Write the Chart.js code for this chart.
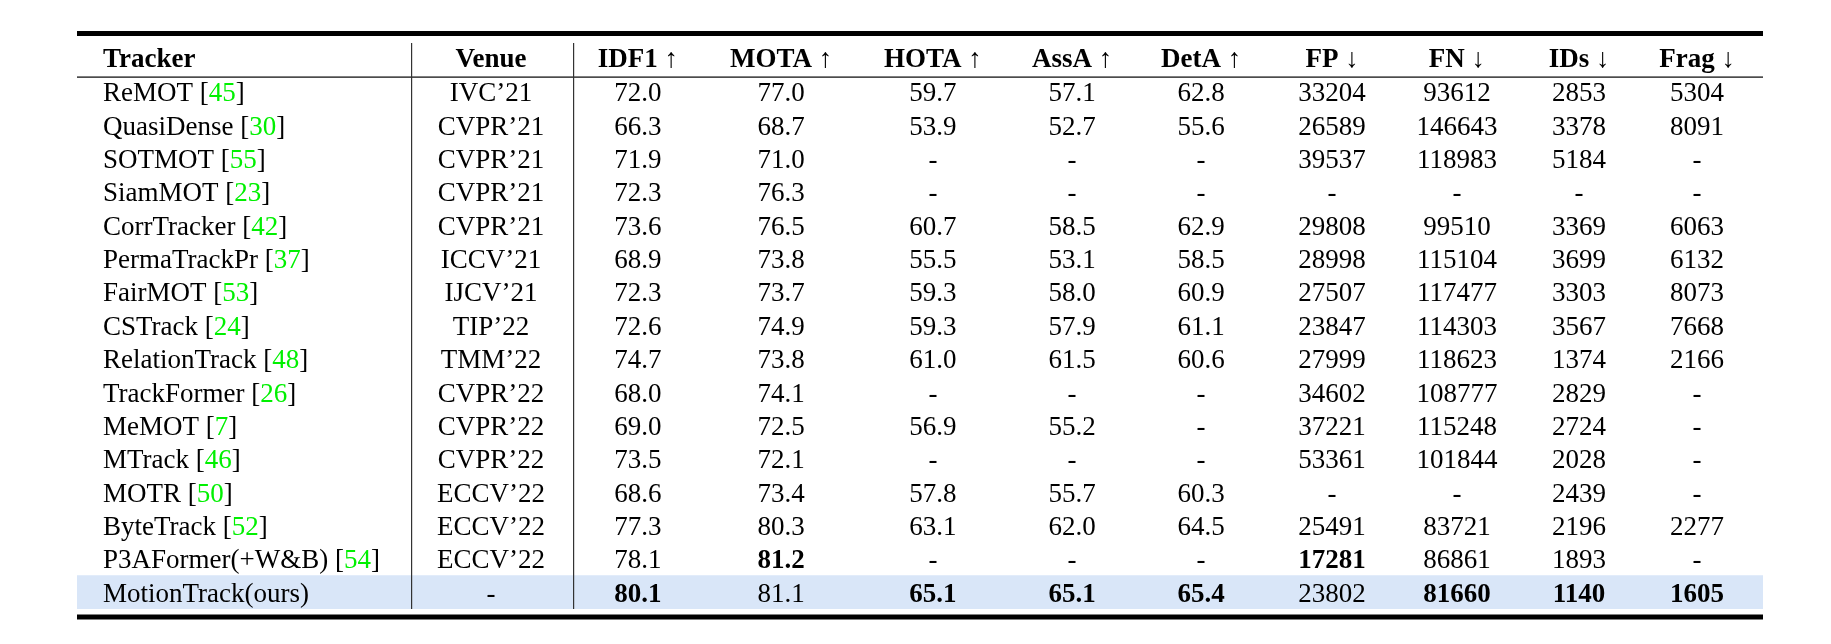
<!DOCTYPE html>
<html>
<head>
<meta charset="utf-8">
<script src="https://cdn.jsdelivr.net/npm/chart.js@4.4.1/dist/chart.umd.min.js"></script>
<style>
  html, body { margin: 0; padding: 0; background: #fff; }
  #wrap { width: 1831px; height: 644px; position: relative; }
</style>
</head>
<body>
<div id="wrap"><canvas id="tableChart"></canvas></div>
<script>
// 表格数据
const trackers = ['ReMOT', 'QuasiDense', 'SOTMOT', 'SiamMOT', 'CorrTracker', 'PermaTrackPr', 'FairMOT', 'CSTrack',
    'RelationTrack', 'TrackFormer', 'MeMOT', 'MTrack', 'MOTR', 'ByteTrack', 'P3AFormer(+W&B)', 'MotionTrack(ours)'];
const refs = ['45', '30', '55', '23', '42', '37', '53', '24', '48', '26', '7', '46', '50', '52', '54', null];
const venues = ['IVC’21', 'CVPR’21', 'CVPR’21', 'CVPR’21', 'CVPR’21', 'ICCV’21', 'IJCV’21', 'TIP’22',
    'TMM’22', 'CVPR’22', 'CVPR’22', 'CVPR’22', 'ECCV’22', 'ECCV’22', 'ECCV’22', '-'];

const metricNames = ['IDF1', 'MOTA', 'HOTA', 'AssA', 'DetA', 'FP', 'FN', 'IDs', 'Frag'];
const metricArrows = ['↑', '↑', '↑', '↑', '↑', '↓', '↓', '↓', '↓'];
const metricDecimals = [1, 1, 1, 1, 1, 0, 0, 0, 0];

const idf1 = [72.0, 66.3, 71.9, 72.3, 73.6, 68.9, 72.3, 72.6, 74.7, 68.0, 69.0, 73.5, 68.6, 77.3, 78.1, 80.1];
const mota = [77.0, 68.7, 71.0, 76.3, 76.5, 73.8, 73.7, 74.9, 73.8, 74.1, 72.5, 72.1, 73.4, 80.3, 81.2, 81.1];
const hota = [59.7, 53.9, null, null, 60.7, 55.5, 59.3, 59.3, 61.0, null, 56.9, null, 57.8, 63.1, null, 65.1];
const assa = [57.1, 52.7, null, null, 58.5, 53.1, 58.0, 57.9, 61.5, null, 55.2, null, 55.7, 62.0, null, 65.1];
const deta = [62.8, 55.6, null, null, 62.9, 58.5, 60.9, 61.1, 60.6, null, null, null, 60.3, 64.5, null, 65.4];
const fp = [33204, 26589, 39537, null, 29808, 28998, 27507, 23847, 27999, 34602, 37221, 53361, null, 25491, 17281, 23802];
const fn = [93612, 146643, 118983, null, 99510, 115104, 117477, 114303, 118623, 108777, 115248, 101844, null, 83721, 86861, 81660];
const ids = [2853, 3378, 5184, null, 3369, 3699, 3303, 3567, 1374, 2829, 2724, 2028, 2439, 2196, 1893, 1140];
const frag = [5304, 8091, null, null, 6063, 6132, 8073, 7668, 2166, null, null, null, null, 2277, null, 1605];
const metricValues = [idf1, mota, hota, assa, deta, fp, fn, ids, frag];

// 加粗的单元格 [指标, 行]
const boldCells = [['MOTA', 14], ['FP', 14], ['IDF1', 15], ['HOTA', 15], ['AssA', 15], ['DetA', 15],
    ['FN', 15], ['IDs', 15], ['Frag', 15]];
const highlightRow = 15;

// 布局: 列位置 (表格宽度百分比)
const trackerX = 1.54;
const venueX = 24.56;
const metricX = [33.27, 41.76, 50.77, 59.02, 66.67, 74.44, 81.85, 89.09, 96.09];
const dividerX = [19.81, 29.42];

const FONT = '"Liberation Serif", "Times New Roman", serif';
const SIZE = 27;

const isBold = (name, row) => boldCells.some(c => c[0] === name && c[1] === row);

// 画表格文字和线条的插件
const tablePlugin = {
    id: 'tablePlugin',
    afterDatasetsDraw(chart) {
        const ctx = chart.ctx;
        const area = chart.chartArea;
        const x = chart.scales.x;
        const y = chart.scales.y;
        ctx.save();

        // 横线
        ctx.fillStyle = '#000';
        ctx.fillRect(area.left, 31, area.right - area.left, 5);
        ctx.fillRect(area.left, 76.5, area.right - area.left, 1.2);
        ctx.fillRect(area.left, 614.5, area.right - area.left, 5);

        // 竖线
        ctx.fillStyle = '#333';
        dividerX.forEach(v => {
            const px = Math.round(x.getPixelForValue(v));
            ctx.fillRect(px, 43, 1.2, area.bottom - 43);
        });

        // 表头
        const headY = area.top - 8;
        ctx.textBaseline = 'alphabetic';
        ctx.fillStyle = '#000';
        ctx.font = `bold ${SIZE}px ${FONT}`;
        ctx.textAlign = 'left';
        ctx.fillText('Tracker', x.getPixelForValue(trackerX), headY);
        ctx.textAlign = 'center';
        ctx.fillText('Venue', x.getPixelForValue(venueX), headY);
        metricNames.forEach((name, i) => {
            ctx.font = `bold ${SIZE}px ${FONT}`;
            const w1 = ctx.measureText(name + ' ').width;
            ctx.font = `${SIZE}px ${FONT}`;
            const w2 = ctx.measureText(metricArrows[i]).width;
            const left = x.getPixelForValue(metricX[i]) - (w1 + w2) / 2;
            ctx.textAlign = 'left';
            ctx.font = `bold ${SIZE}px ${FONT}`;
            ctx.fillText(name + ' ', left, headY);
            ctx.font = `${SIZE}px ${FONT}`;
            ctx.fillText(metricArrows[i], left + w1, headY);
        });

        // 数据行
        trackers.forEach((name, r) => {
            const base = y.getPixelForValue(r) + 9.5;
            ctx.font = `${SIZE}px ${FONT}`;
            ctx.textAlign = 'left';
            let px = x.getPixelForValue(trackerX);
            ctx.fillStyle = '#000';
            const label = refs[r] ? name + ' [' : name;
            ctx.fillText(label, px, base);
            if (refs[r]) {
                px += ctx.measureText(label).width;
                ctx.fillStyle = '#00f000';
                ctx.fillText(refs[r], px, base);
                px += ctx.measureText(refs[r]).width;
                ctx.fillStyle = '#000';
                ctx.fillText(']', px, base);
            }
            ctx.textAlign = 'center';
            ctx.fillText(venues[r], x.getPixelForValue(venueX), base);

            metricValues.forEach((vals, i) => {
                const v = vals[r];
                const text = v === null ? '-' : v.toFixed(metricDecimals[i]);
                ctx.font = isBold(metricNames[i], r) ? `bold ${SIZE}px ${FONT}` : `${SIZE}px ${FONT}`;
                ctx.fillText(text, x.getPixelForValue(metricX[i]), base);
            });
        });
        ctx.restore();
    }
};

// 高亮行用浮动条形表示
const bandData = trackers.map((t, i) => i === highlightRow ? [0, 100] : null);

const canvas = document.getElementById('tableChart');
new Chart(canvas.getContext('2d'), {
    type: 'bar',
    data: {
        labels: trackers,
        datasets: [{
            data: bandData,
            backgroundColor: '#d9e6f8',
            borderWidth: 0,
            barPercentage: 1,
            categoryPercentage: 1
        }]
    },
    options: {
        indexAxis: 'y',
        responsive: true,
        maintainAspectRatio: false,
        animation: false,
        layout: { padding: { left: 77, right: 68, top: 75, bottom: 35 } },
        scales: {
            x: { type: 'linear', min: 0, max: 100, display: false },
            y: { type: 'category', offset: true, display: false, grid: { display: false } }
        },
        plugins: {
            legend: { display: false },
            tooltip: { enabled: false }
        }
    },
    plugins: [tablePlugin]
});
</script>
</body>
</html>
